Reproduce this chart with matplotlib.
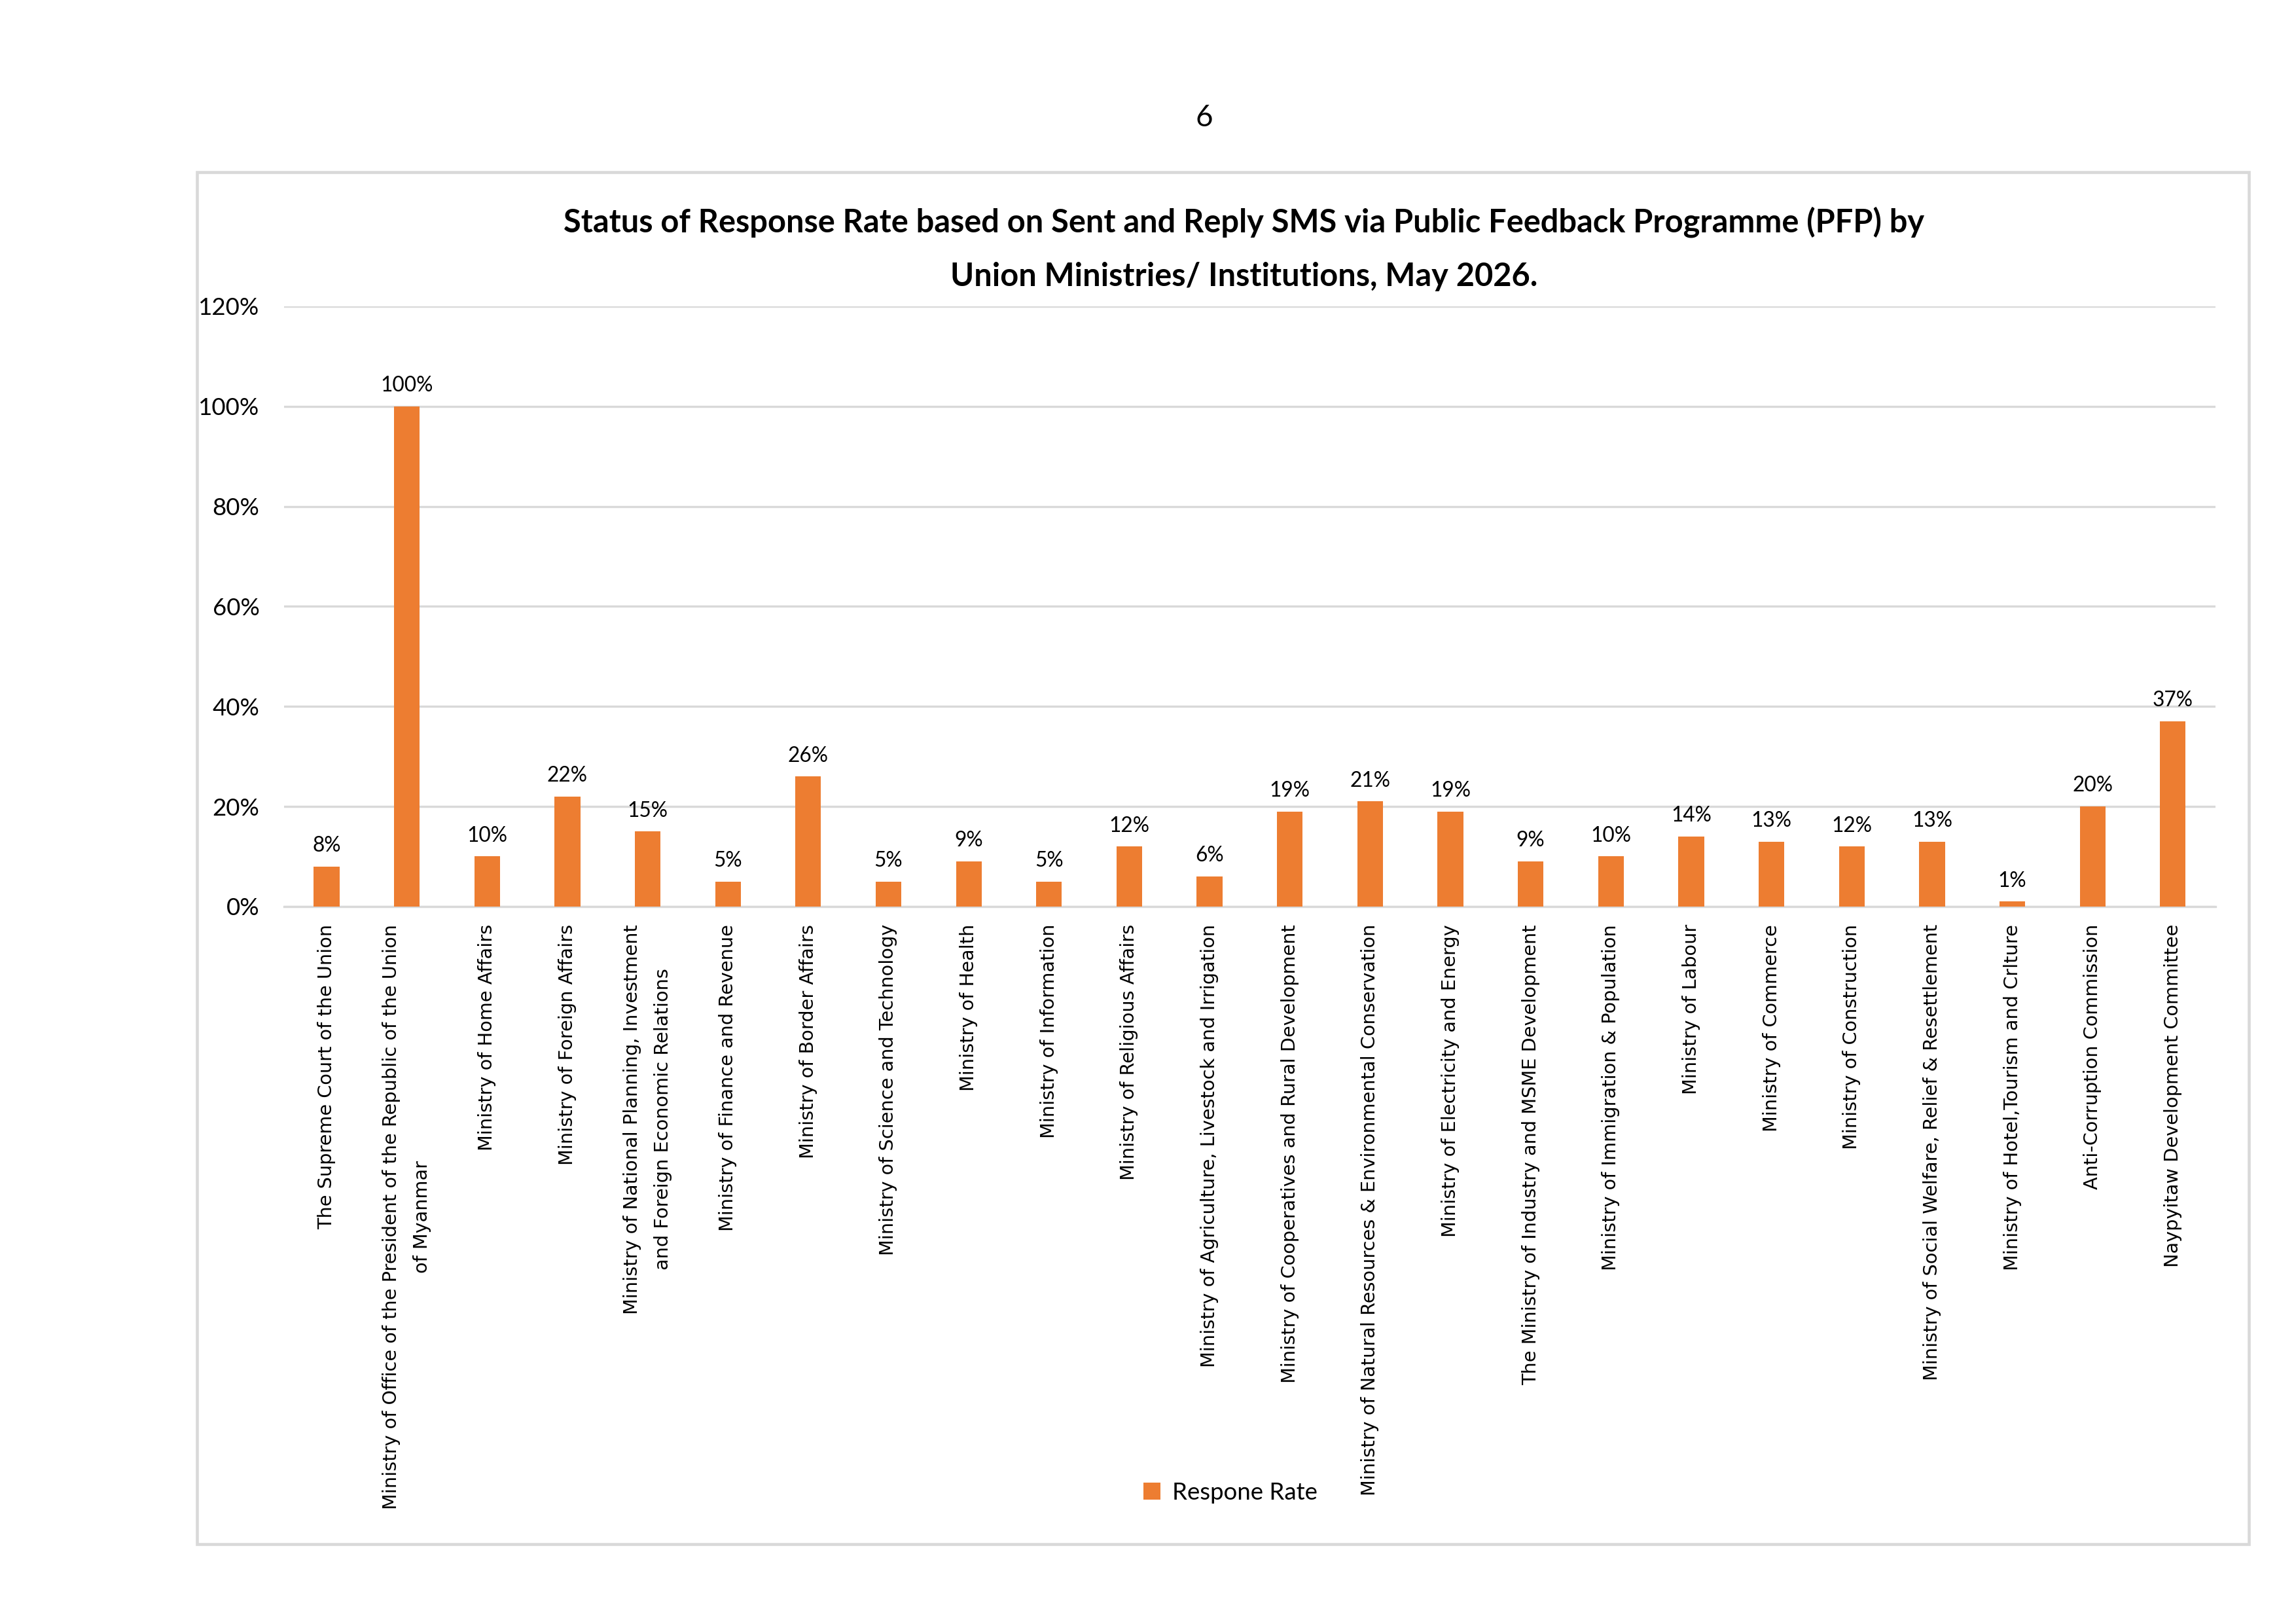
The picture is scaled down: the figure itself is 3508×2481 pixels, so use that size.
import matplotlib.pyplot as plt
from matplotlib.patches import Rectangle

# --- chart data ---
ministries = [
    "The Supreme Court of the Union",
    "Ministry of Office of the President of the Republic of the Union\nof Myanmar",
    "Ministry of Home Affairs",
    "Ministry of Foreign Affairs",
    "Ministry of National Planning, Investment\nand Foreign Economic Relations",
    "Ministry of Finance and Revenue",
    "Ministry of Border Affairs",
    "Ministry of Science and Technology",
    "Ministry of Health",
    "Ministry of Information",
    "Ministry of Religious Affairs",
    "Ministry of Agriculture, Livestock and Irrigation",
    "Ministry of Cooperatives and Rural Development",
    "Ministry of Natural Resources & Environmental Conservation",
    "Ministry of Electricity and Energy",
    "The Ministry of Industry and MSME Development",
    "Ministry of Immigration & Population",
    "Ministry of Labour",
    "Ministry of Commerce",
    "Ministry of Construction",
    "Ministry of Social Welfare, Relief & Resettlement",
    "Ministry of Hotel,Tourism and Crlture",
    "Anti-Corruption Commission",
    "Naypyitaw Development Committee",
]
response_rate = [8, 100, 10, 22, 15, 5, 26, 5, 9, 5, 12, 6,
                 19, 21, 19, 9, 10, 14, 13, 12, 13, 1, 20, 37]
y_ticks = [0, 20, 40, 60, 80, 100, 120]

title = ("Status of Response Rate based on Sent and Reply SMS via Public Feedback Programme (PFP) by\n"
         "Union Ministries/ Institutions, May 2026.")

narrow = ['Lato', 'DejaVu Sans']
bar_color = '#ED7D31'
grid_grey = '#D9D9D9'


def main():
    fig = plt.figure(figsize=(3508 / 300, 2481 / 300), dpi=300)

    # outer frame around the chart, like the pasted Excel object
    fig.patches.append(Rectangle((0.0858, 0.0492), 0.8937, 0.8448, transform=fig.transFigure,
                                 fill=False, edgecolor=grid_grey, linewidth=1.1))

    # page number
    fig.text(0.5245, 0.9274, "6", ha='center', va='center', fontsize=11, family=narrow)

    fig.text(0.5417, 0.8468, title, ha='center', va='center', fontsize=11.7,
             fontweight='bold', family=narrow, linespacing=2.0)

    ax = fig.add_axes([0.1237, 0.4418, 0.8412, 0.3696])
    x = range(len(ministries))
    bars = ax.bar(x, response_rate, width=0.32, color=bar_color, label='Respone Rate', zorder=3)

    for rect, val in zip(bars, response_rate):
        ax.annotate(f"{val}%", (rect.get_x() + rect.get_width() / 2, rect.get_height()),
                    xytext=(0, 4), textcoords='offset points', ha='center', va='bottom',
                    fontsize=7.6, family=narrow)

    ax.set_xlim(-0.53, len(ministries) - 0.47)
    ax.set_ylim(0, 120)
    ax.set_yticks(y_ticks)
    ax.set_yticklabels([f"{t}%" for t in y_ticks], family=narrow, fontsize=8.8)
    ax.set_xticks(list(x))
    ax.set_xticklabels(ministries, rotation=90, ha='center', va='top', fontsize=6.9,
                       family='DejaVu Sans', linespacing=1.85, multialignment='center')
    ax.tick_params(axis='both', length=0)
    ax.tick_params(axis='x', pad=6.5)
    ax.tick_params(axis='y', pad=9)

    ax.grid(axis='y', color=grid_grey, linewidth=0.8, zorder=0)
    for side in ['top', 'right', 'left']:
        ax.spines[side].set_visible(False)
    ax.spines['bottom'].set_color(grid_grey)
    ax.spines['bottom'].set_linewidth(0.8)

    ax.legend(loc='center', bbox_to_anchor=(0.536, 0.081), bbox_transform=fig.transFigure,
              frameon=False, handlelength=0.7, handleheight=0.7, handletextpad=0.5,
              prop={'family': narrow, 'size': 8.8})

    fig.savefig('out.png', dpi=300)


if __name__ == "__main__":
    main()
